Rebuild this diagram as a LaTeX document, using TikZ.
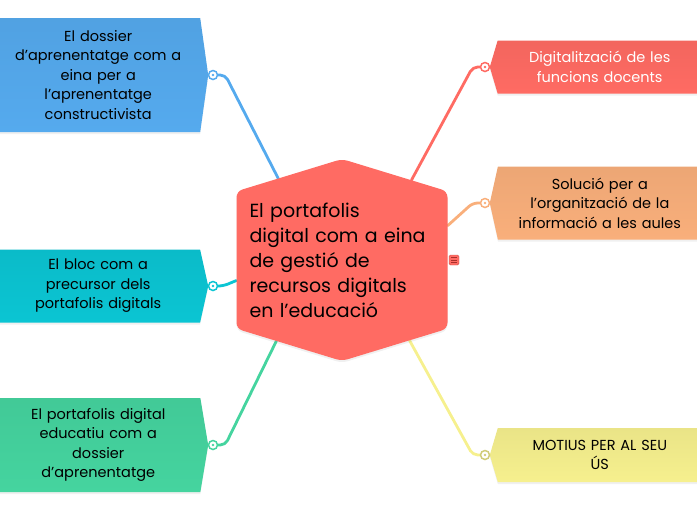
\documentclass[tikz,border=0pt]{standalone}
\usepackage{fontspec}
\setmainfont{Poppins}
\usetikzlibrary{shapes.symbols,backgrounds,shadows}
\definecolor{hubred}{HTML}{FF6B63}
\definecolor{leafblue}{HTML}{55AAEE}
\definecolor{leafcyan}{HTML}{0BC5D3}
\definecolor{leafgreen}{HTML}{45D49F}
\definecolor{leafred}{HTML}{FF6B63}
\definecolor{leaforange}{HTML}{F9AF7B}
\definecolor{leafyellow}{HTML}{F6F08E}
\definecolor{icondark}{HTML}{A8302B}

\begin{document}
\begin{tikzpicture}[x=1pt,y=-1pt,leaf/.style={signal,top color=#1!95!black,bottom color=#1,draw=none,inner sep=0pt,align=center,text width=185,text=black,font=\fontsize{14.5pt}{19.5pt}\selectfont,drop shadow={opacity=0.12,shadow xshift=0pt,shadow yshift=-2pt}},leftleaf/.style={leaf=#1,signal to=east,signal from=nowhere,anchor=west,minimum width=212},rightleaf/.style={leaf=#1,signal to=west,signal from=nowhere,anchor=east,minimum width=212},hub/.style={signal,signal to=north and south,signal from=nowhere,signal pointer angle=146,fill=hubred,rounded corners=6pt,minimum width=211,minimum height=194,inner sep=0pt,text width=185,align=left,text=black,font=\fontsize{19pt}{25pt}\selectfont,drop shadow={opacity=0.12,shadow xshift=0pt,shadow yshift=-2pt}},dot/.style={circle,draw=#1,line width=1.5pt,fill=white,minimum size=9,inner sep=0pt,path picture={\fill[#1] (path picture bounding box.center) circle (1.4);}},link/.style={draw=#1,line width=2.8pt,rounded corners=5pt,line cap=round},memo/.style={rectangle,rounded corners=1.5pt,fill=hubred,draw=hubred!80!black,line width=0.4pt,minimum size=10,inner sep=0pt,path picture={\foreach \k in {-2.2,0,2.2} \draw[icondark,line width=0.9pt] ([xshift=-2.6pt,yshift=\k pt]path picture bounding box.center) -- ++(5.2pt,0);}}]
\useasboundingbox (0,0) rectangle (697,520);
\node[hub] (hub) at (342,260) {El portafolis\\digital com a eina\\de gestió de\\recursos digitals\\en l’educació};
\node[memo] (note) at (454,260) {};
\node[leftleaf=leafblue,signal pointer angle=164,minimum height=114] (n1) at (-4,75) {El dossier\\d’aprenentatge com a\\eina per a\\l’aprenentatge\\constructivista};
\node[leftleaf=leafcyan,signal pointer angle=155,minimum height=73] (n2) at (-4,286) {El bloc com a\\precursor dels\\portafolis digitals};
\node[leftleaf=leafgreen,signal pointer angle=161,minimum height=94] (n3) at (-4,445) {El portafolis digital\\educatiu com a\\dossier\\d’aprenentatge};
\node[rightleaf=leafred,signal pointer angle=147,minimum height=53,text=white] (n4) at (702,67) {Digitalització de les\\funcions docents};
\node[rightleaf=leaforange,signal pointer angle=155,minimum height=73] (n5) at (702,203) {Solució per a\\l’organització de la\\informació a les aules};
\node[rightleaf=leafyellow,signal pointer angle=147,minimum height=54] (n6) at (702,455) {MOTIUS PER AL SEU\\ÚS};
\node[dot=leafblue] (d1) at (213,75) {};
\node[dot=leafcyan] (d2) at (213,286) {};
\node[dot=leafgreen] (d3) at (213,445) {};
\node[dot=leafred] (d4) at (485,67) {};
\node[dot=leaforange] (d5) at (485,203) {};
\node[dot=leafyellow!85!black] (d6) at (485,455) {};
\begin{scope}[on background layer]
\draw[link=leafblue] (d1.east) -- ++(7,0) -- (hub.128);
\draw[link=leafcyan] (d2.east) -- ++(5,0) -- (hub.191);
\draw[link=leafgreen] (d3.east) -- ++(7,0) -- (hub.231);
\draw[link=leafred] (d4.west) -- ++(-7,0) -- (hub.49);
\draw[link=leaforange] (d5.west) -- ++(-7,0) -- (hub.18);
\draw[link=leafyellow] (d6.west) -- ++(-7,0) -- (hub.310);
\end{scope}
\end{tikzpicture}
\end{document}
